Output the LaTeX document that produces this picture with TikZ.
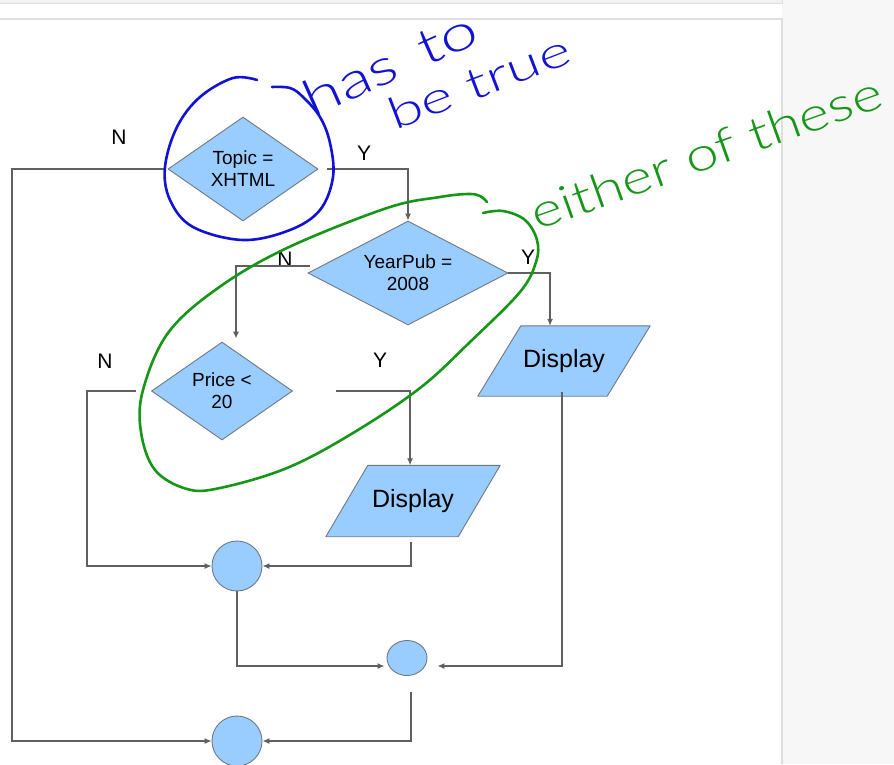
\documentclass[tikz,border=0pt]{standalone}
\usepackage{fontspec}
\setmainfont{Liberation Sans}
\IfFontExistsTF{Lato Light}{\newfontfamily\handfont{Lato Light}}{\newfontfamily\handfont{Lato}}
\usetikzlibrary{shapes.geometric,arrows.meta,calc,backgrounds}
\definecolor{boxfill}{RGB}{153,204,255}
\definecolor{boxline}{RGB}{112,120,130}
\definecolor{conn}{RGB}{96,96,96}
\definecolor{penblue}{RGB}{18,18,214}
\definecolor{pengreen}{RGB}{22,150,22}
\definecolor{frameline}{RGB}{222,222,222}
\definecolor{sidegray}{RGB}{247,247,247}
\definecolor{topgray}{RGB}{241,241,241}
\begin{document}
\begin{tikzpicture}[x=1pt,y=-1pt,
  dec/.style={diamond,draw=boxline,fill=boxfill,line width=0.9pt,inner sep=0pt,align=center,font=\fontsize{19}{22}\selectfont},
  iobox/.style={rectangle,inner sep=0pt,minimum height=70pt,font=\fontsize{25}{30}\selectfont},
  para/.style={draw=boxline,fill=boxfill,line width=0.9pt,line join=round},
  joint/.style={ellipse,draw=boxline,fill=boxfill,line width=0.9pt,inner sep=0pt},
  lbl/.style={inner sep=0pt,font=\fontsize{21}{25}\selectfont},
  ln/.style={draw=conn,line width=1.2pt},
  ar/.style={ln,-{Latex[length=7pt,width=6pt]}},
  pen/.style={line width=2.6pt,line cap=round,line join=round},
  hand/.style={inner sep=0pt,anchor=base west,font=\handfont\fontsize{44}{50}\selectfont}
]
\useasboundingbox (0,0) rectangle (894,764);

% decisions
\node[dec,aspect=1.44,minimum width=150pt,minimum height=104pt] (topic) at (243,169) {Topic =\\XHTML};
\node[dec,aspect=1.92,minimum width=200pt,minimum height=104pt] (yp) at (408,273) {YearPub =\\2008};
\node[dec,aspect=1.44,minimum width=141pt,minimum height=98pt] (price) at (222,391) {Price <\\20};

% displays (text nodes; parallelograms drawn on background)
\node[iobox,minimum width=129pt] (d1) at (564,361) {Display};
\node[iobox,minimum width=132pt,minimum height=71pt] (d2) at (413,501) {Display};

% junctions
\node[joint,minimum width=50pt,minimum height=50pt] (c1) at (237,566) {};
\node[joint,minimum width=40pt,minimum height=35pt] (c2) at (407,658) {};
\node[joint,minimum width=50pt,minimum height=50pt] (c3) at (237,741) {};

% labels
\node[lbl] (nA) at (119,137) {N};
\node[lbl] (yA) at (364,153) {Y};
\node[lbl] (nB) at (285,259) {N};
\node[lbl] (yB) at (528,257) {Y};
\node[lbl] (nC) at (105,361) {N};
\node[lbl] (yC) at (380,360) {Y};

% connectors
\coordinate (lft) at (12,169);
\coordinate (pn) at (87,391);
\draw[ar] ($(topic.west)+(-3,0)$) -- (lft) |- (c3.west);
\draw[ar] ($(topic.east)+(9,0)$) -| (yp.north);
\draw[ar] ($(yp.west)+(2,-7)$) -| ($(price.north)+(14,-3)$);
\draw[ar] (yp.east) -| ($(d1.north)+(-14,0)$);
\draw[ar] ($(price.west)+(-15,0)$) -- (pn) |- (c1.west);
\draw[ar] ($(price.east)+(43,0)$) -| ($(d2.north)+(-3,0)$);
\draw[ar] ($(d2.south)+(-2,5)$) |- (c1.east);
\draw[ar] (c1.south) |- ($(c2.west)+(-2,8)$);
\draw[ar] ($(d1.south)+(-2,-4)$) |- ($(c2.east)+(10,8)$);
\draw[ar] ($(c2.south)+(4,16)$) |- (c3.east);

% handwritten annotations
\draw[pen,penblue] plot[smooth,tension=0.6] coordinates {(257,80) (233,78) (200,97) (177,127) (165,167) (170,200) (193,227) (243,240) (290,230) (320,210) (333,177) (330,143) (320,117) (303,97) (290,88) (272,87)};
\node[hand,text=penblue,rotate=24,font=\handfont\fontsize{50}{56}\selectfont] (hasto) at (312,118) {\scalebox{1.35}[1]{has\hspace{0.4em}to}};
\node[hand,text=penblue,rotate=21] (betrue) at (395,131) {\scalebox{1.4}[1]{be true}};

\draw[pen,pengreen] plot[smooth,tension=0.6] coordinates {(483,213) (503,211) (525,220) (537,240) (536,262) (520,292) (470,342) (420,388) (353,433) (287,468) (220,488) (187,489) (155,470) (141,432) (143,390) (168,333) (218,288) (287,248) (387,208) (440,197) (468,194) (480,196) (487,202)};
\node[hand,text=pengreen,rotate=19.7,font=\handfont\fontsize{47}{53}\selectfont] (either) at (537,231) {\scalebox{1.25}[1]{either of these}};

% background: page frame and parallelograms
\begin{scope}[on background layer]
  \fill[white] (0,0) rectangle (894,764);
  \fill[sidegray] (782,0) rectangle (894,764);
  \fill[topgray] (0,0) rectangle (782,3);
  \draw[frameline,line width=1pt] (0,3) -- (782,3) -- (782,0);
  \draw[frameline,line width=1.5pt] (0,19) -- (782,19) -- (782,764);
  \draw[para] ($(d1.north west)+(21.5,0)$) -- ($(d1.north east)+(21.5,0)$) -- ($(d1.south east)+(-21.5,0)$) -- ($(d1.south west)+(-21.5,0)$) -- cycle;
  \draw[para] ($(d2.north west)+(21,0)$) -- ($(d2.north east)+(21,0)$) -- ($(d2.south east)+(-21,0)$) -- ($(d2.south west)+(-21,0)$) -- cycle;
\end{scope}
\end{tikzpicture}
\end{document}
